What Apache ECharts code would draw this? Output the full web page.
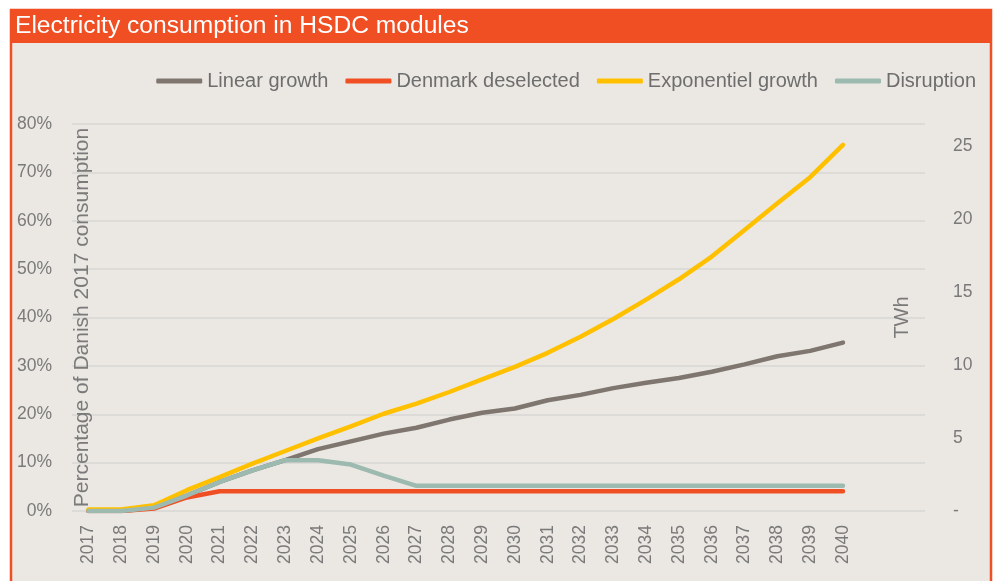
<!DOCTYPE html>
<html>
<head>
<meta charset="utf-8">
<script src="https://cdn.jsdelivr.net/npm/echarts@6/dist/echarts.min.js"></script>
<style>
html,body{margin:0;padding:0;background:#fff;}
#c{width:997px;height:581px;}
</style>
</head>
<body>
<div id="c"></div>
<script>
const years = ['2017','2018','2019','2020','2021','2022','2023','2024','2025','2026','2027','2028','2029','2030','2031','2032','2033','2034','2035','2036','2037','2038','2039','2040','',''];
const linearGrowth = [0,0,0.7,3.2,6.0,8.4,10.5,12.8,14.4,16.0,17.2,18.9,20.3,21.2,22.9,24.0,25.4,26.5,27.5,28.8,30.3,32.0,33.1,34.8];
const denmarkDeselected = [0,0,0.5,2.8,4.1,4.1,4.1,4.1,4.1,4.1,4.1,4.1,4.1,4.1,4.1,4.1,4.1,4.1,4.1,4.1,4.1,4.1,4.1,4.1];
const exponentialGrowth = [0.3,0.3,1.2,4.3,7.0,9.8,12.4,15.0,17.5,20.1,22.2,24.6,27.2,29.8,32.7,36.0,39.7,43.7,47.9,52.6,58.1,63.6,69.0,75.7];
const disruption = [0,0,0.7,3.2,6.0,8.4,10.5,10.5,9.6,7.3,5.2,5.2,5.2,5.2,5.2,5.2,5.2,5.2,5.2,5.2,5.2,5.2,5.2,5.2];
const leftTicks = {min:0, max:80, interval:10};
const rightTicks = {min:0, max:26.5, interval:5};

const FONT = '"Liberation Sans", Arial, sans-serif';
const ORANGE = '#F04E23';
const LABEL = '#7A7A7A';

const chart = echarts.init(document.getElementById('c'), null, {renderer:'canvas'});
function line(name, data, color){
  return {name, type:'line', data, symbol:'none', showSymbol:false, yAxisIndex:0,
    lineStyle:{color, width:4.5, cap:'round', join:'round'}, itemStyle:{color},
    emphasis:{disabled:true}, animation:false};
}
chart.setOption({
  backgroundColor:'#ffffff',
  animation:false,
  graphic:[
    {type:'rect', z:-10, shape:{x:11, y:10, width:980, height:580}, style:{fill:'#EBE8E3', stroke:ORANGE, lineWidth:2.5}},
    {type:'rect', z:-9, shape:{x:10, y:10, width:982, height:33}, style:{fill:ORANGE}}
  ],
  title:{text:'Electricity consumption in HSDC modules', left:15, top:14, padding:0,
    textStyle:{color:'#ffffff', fontFamily:FONT, fontSize:24.6, fontWeight:'normal'}},
  legend:{right:16, top:66, itemWidth:46, itemHeight:5, itemGap:17, icon:'roundRect',
    textStyle:{color:'#6E6E6E', fontFamily:FONT, fontSize:20},
    data:['Linear growth','Denmark deselected','Exponentiel growth','Disruption']},
  grid:{left:72, right:72, top:124, bottom:70, containLabel:false, outerBoundsMode:'none'},
  xAxis:{type:'category', data:years, boundaryGap:true,
    axisLine:{show:false}, axisTick:{show:false}, splitLine:{show:false},
    axisLabel:{rotate:90, interval:0, margin:14, color:LABEL, fontFamily:FONT, fontSize:17.5}},
  yAxis:[
    {type:'value', position:'left', min:leftTicks.min, max:leftTicks.max, interval:leftTicks.interval,
     name:'Percentage of Danish 2017 consumption', nameLocation:'middle', nameGap:-21, nameRotate:90,
     nameMoveOverlap:false,
     nameTextStyle:{color:LABEL, fontFamily:FONT, fontSize:21},
     axisLine:{show:false}, axisTick:{show:false},
     axisLabel:{formatter:'{value}%', margin:20, color:LABEL, fontFamily:FONT, fontSize:17.5},
     splitLine:{show:true, lineStyle:{color:'#D9D7D3', width:1.5}}},
    {type:'value', position:'right', min:rightTicks.min, max:rightTicks.max, interval:rightTicks.interval,
     name:'TWh', nameLocation:'middle', nameGap:-33, nameRotate:90,
     nameMoveOverlap:false,
     nameTextStyle:{color:LABEL, fontFamily:FONT, fontSize:20},
     axisLine:{show:false}, axisTick:{show:false}, splitLine:{show:false},
     axisLabel:{showMaxLabel:false, margin:28, color:LABEL, fontFamily:FONT, fontSize:17.5,
       formatter:function(v){return v===0?'-':String(v);}}}
  ],
  series:[
    line('Linear growth', linearGrowth, '#7F776F'),
    line('Denmark deselected', denmarkDeselected, ORANGE),
    line('Exponentiel growth', exponentialGrowth, '#FFC000'),
    line('Disruption', disruption, '#9DBAB0')
  ]
});
</script>
</body>
</html>
